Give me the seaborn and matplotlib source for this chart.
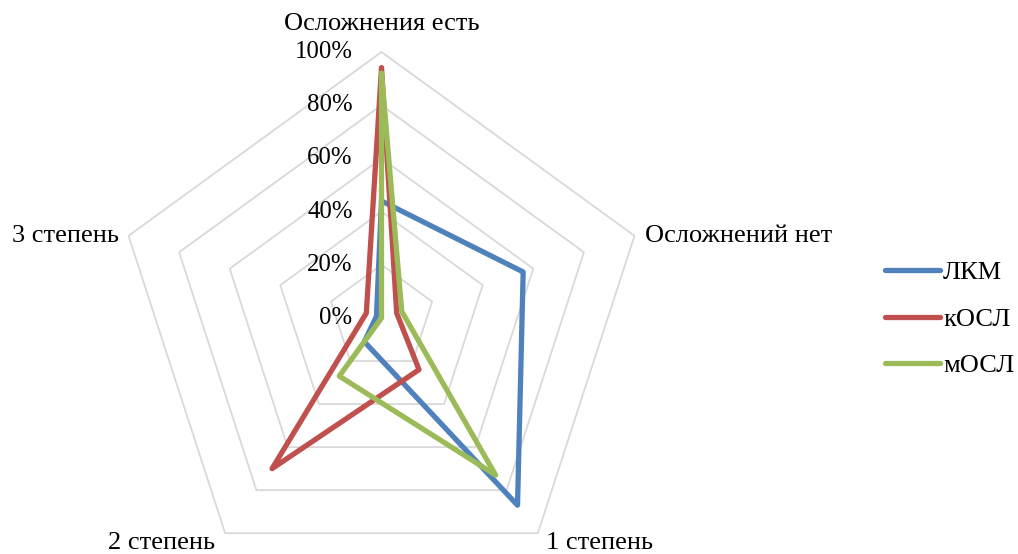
import numpy as np
import pandas as pd
import matplotlib
matplotlib.use("Agg")
import matplotlib.pyplot as plt
import seaborn as sns

categories = ["Осложнения есть", "Осложнений нет", "1 степень", "2 степень", "3 степень"]
series_names = ["ЛКМ", "кОСЛ", "мОСЛ"]
lkm = [44, 56, 87, 11, 2]
kosl = [94, 6, 24, 70, 6]
mosl = [92, 8, 73, 27, 0]
r_ticks = [0, 20, 40, 60, 80, 100]
r_tick_labels = ["0%", "20%", "40%", "60%", "80%", "100%"]
colors = ["#4F81BD", "#C0504D", "#9BBB59"]

sns.set_theme(style="white")
plt.rcParams["font.family"] = ["Liberation Serif", "DejaVu Serif"]
plt.rcParams["text.color"] = "black"
FS_LABEL = 19
FS_TICK = 17.8

n = len(categories)
theta = np.arange(n) * 2 * np.pi / n
theta_closed = np.append(theta, 2 * np.pi)

rows = []
for name, vals in zip(series_names, [lkm, kosl, mosl]):
    for t, v in zip(theta_closed, vals + vals[:1]):
        rows.append({"theta": t, "value": v, "series": name})
df = pd.DataFrame(rows)

W, H = 1018, 554
fig = plt.figure(figsize=(W / 100, H / 100), dpi=100)
cx, cy, R = 381.5, 554 - 318, 266
ax = fig.add_axes([(cx - R) / W, (cy - R) / H, 2 * R / W, 2 * R / H], projection="polar")
ax.set_theta_zero_location("N")
ax.set_theta_direction(-1)
ax.set_ylim(0, 100)
ax.grid(False)
ax.spines["polar"].set_visible(False)
ax.set_xticks([])
ax.set_yticks([])
ax.patch.set_alpha(0)

# pentagon grid
for r in r_ticks[1:]:
    ax.plot(theta_closed, [r] * (n + 1), color="#D9D9D9", lw=1.3, zorder=1, clip_on=False)

sns.lineplot(data=df, x="theta", y="value", hue="series", hue_order=series_names,
             palette=colors, sort=False, estimator=None, linewidth=3.8, ax=ax,
             legend=False, zorder=3)
for line in ax.get_lines()[-3:]:
    line.set_solid_joinstyle("round")
    line.set_solid_capstyle("round")
    line.set_clip_on(False)
ax.set_xlabel("")
ax.set_ylabel("")

# radial tick labels along the top axis
for r, lab in zip(r_ticks, r_tick_labels):
    ax.annotate(lab, xy=(0, r), xytext=(-29, 0), textcoords="offset pixels",
                ha="right", va="center", fontsize=FS_TICK, color="black",
                annotation_clip=False)

# category labels at the outer vertices
offsets = [((0, 28), "center", "center"),
           ((11, 0), "left", "center"),
           ((8, 1), "left", "top"),
           ((-10, 1), "right", "top"),
           ((-10, 0), "right", "center")]
for t, lab, (off, ha, va) in zip(theta, categories, offsets):
    ax.annotate(lab, xy=(t, 100), xytext=off, textcoords="offset pixels",
                ha=ha, va=va, fontsize=FS_LABEL, color="black", annotation_clip=False)

handles = [plt.Line2D([], [], color=c, lw=3.8, solid_capstyle="round") for c in colors]
leg = fig.legend(handles, series_names, loc="center left",
                 bbox_to_anchor=(885 / W, (554 - 319) / H),
                 frameon=False, fontsize=FS_LABEL, handlelength=2.08, handletextpad=0.12,
                 labelspacing=0.87, borderpad=0, borderaxespad=0)
for txt in leg.get_texts():
    txt.set_color("black")

fig.savefig("out.png", dpi=100)
